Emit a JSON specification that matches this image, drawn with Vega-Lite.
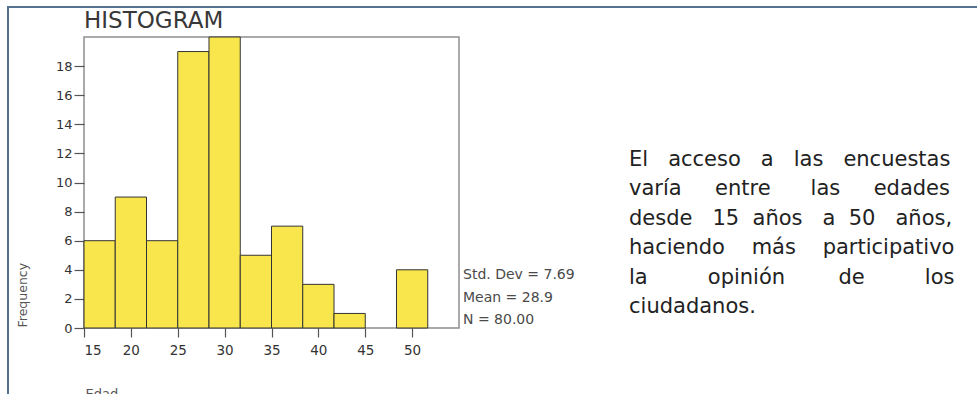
{
  "$schema": "https://vega.github.io/schema/vega-lite/v6.json",
  "width": 375,
  "height": 291,
  "autosize": "none",
  "padding": {"left": 84, "top": 37, "right": 518, "bottom": 66},
  "background": "white",
  "config": {
    "font": "DejaVu Sans",
    "view": {"stroke": "#8f8f8f", "strokeWidth": 1.5},
    "axis": {
      "labelOverlap": false,
      "grid": false,
      "domain": false,
      "tickColor": "#555",
      "tickWidth": 1.2,
      "labelFont": "DejaVu Sans",
      "labelColor": "#333",
      "titleFont": "DejaVu Sans",
      "titleFontWeight": "normal",
      "titleColor": "#555"
    },
    "axisX": {
      "tickSize": 9,
      "labelFontSize": 13.5,
      "labelPadding": 6,
      "titleFontSize": 13,
      "titleX": 1,
      "titleY": 59,
      "titleAlign": "left",
      "titleBaseline": "top"
    },
    "axisY": {
      "tickSize": 10,
      "labelFontSize": 13,
      "labelPadding": 2,
      "titleFontSize": 12.5,
      "titleAngle": 270,
      "titleX": -62,
      "titleY": 290,
      "titleAlign": "left",
      "titleBaseline": "middle"
    }
  },
  "layer": [
    {
      "data": {"values": [{}]},
      "mark": {"type": "rect", "filled": false, "stroke": "#557390", "strokeWidth": 2, "clip": false},
      "encoding": {
        "x": {"datum": 6.893, "type": "quantitative", "scale": {"domain": [15, 55], "padding": 0, "nice": false, "zero": false}, "axis": {"title": "Edad", "values": [15, 20, 25, 30, 35, 40, 45, 50]}},
        "x2": {"datum": 115},
        "y": {"datum": 22.06, "type": "quantitative", "scale": {"domain": [0, 20], "padding": 0, "nice": false}, "axis": {"title": "Frequency", "values": [0, 2, 4, 6, 8, 10, 12, 14, 16, 18]}},
        "y2": {"datum": -6}
      }
    },
    {
      "data": {
        "values": [
          {"bin_start": 15, "bin_end": 18.333, "count": 6},
          {"bin_start": 18.333, "bin_end": 21.667, "count": 9},
          {"bin_start": 21.667, "bin_end": 25, "count": 6},
          {"bin_start": 25, "bin_end": 28.333, "count": 19},
          {"bin_start": 28.333, "bin_end": 31.667, "count": 20},
          {"bin_start": 31.667, "bin_end": 35, "count": 5},
          {"bin_start": 35, "bin_end": 38.333, "count": 7},
          {"bin_start": 38.333, "bin_end": 41.667, "count": 3},
          {"bin_start": 41.667, "bin_end": 45, "count": 1},
          {"bin_start": 48.333, "bin_end": 51.667, "count": 4}
        ]
      },
      "mark": {"type": "bar", "orient": "vertical", "fill": "#F9E64C", "stroke": "#333333", "strokeWidth": 1},
      "encoding": {
        "x": {
          "field": "bin_start",
          "type": "quantitative",
          "scale": {"domain": [15, 55], "padding": 0, "nice": false, "zero": false},
          "axis": {"title": "Edad", "values": [15, 20, 25, 30, 35, 40, 45, 50]}
        },
        "x2": {"field": "bin_end"},
        "y": {
          "field": "count",
          "type": "quantitative",
          "scale": {"domain": [0, 20], "padding": 0, "nice": false},
          "axis": {"title": "Frequency", "values": [0, 2, 4, 6, 8, 10, 12, 14, 16, 18]}
        },
        "y2": {"datum": 0}
      }
    },
    {
      "data": {"values": [{}]},
      "mark": {
        "type": "text",
        "text": "HISTOGRAM",
        "font": "DejaVu Sans",
        "fontSize": 23,
        "fontWeight": "normal",
        "fill": "#383838",
        "align": "left",
        "baseline": "alphabetic",
        "dy": -9,
        "clip": false
      },
      "encoding": {
        "x": {"datum": 15, "type": "quantitative", "scale": {"domain": [15, 55], "padding": 0, "nice": false, "zero": false}, "axis": {"title": "Edad", "values": [15, 20, 25, 30, 35, 40, 45, 50]}},
        "y": {"datum": 20, "type": "quantitative", "scale": {"domain": [0, 20], "padding": 0, "nice": false}, "axis": {"title": "Frequency", "values": [0, 2, 4, 6, 8, 10, 12, 14, 16, 18]}}
      }
    },
    {
      "data": {"values": [{}]},
      "mark": {
        "type": "text",
        "text": ["Std. Dev = 7.69", "Mean = 28.9", "N = 80.00"],
        "font": "DejaVu Sans",
        "fontSize": 14,
        "fontWeight": "normal",
        "fill": "#4a4a4a",
        "align": "left",
        "baseline": "alphabetic",
        "lineHeight": 22.5,
        "dx": 4,
        "dy": -49,
        "clip": false
      },
      "encoding": {
        "x": {"datum": 55, "type": "quantitative", "scale": {"domain": [15, 55], "padding": 0, "nice": false, "zero": false}, "axis": {"title": "Edad", "values": [15, 20, 25, 30, 35, 40, 45, 50]}},
        "y": {"datum": 0, "type": "quantitative", "scale": {"domain": [0, 20], "padding": 0, "nice": false}, "axis": {"title": "Frequency", "values": [0, 2, 4, 6, 8, 10, 12, 14, 16, 18]}}
      }
    },
    {
      "data": {"values": [{}]},
      "mark": {
        "type": "text",
        "text": [
          "El\u00a0\u00a0\u00a0acceso\u00a0\u00a0\u00a0a\u00a0\u00a0\u00a0las\u00a0\u00a0\u00a0encuestas",
          "varía\u00a0\u00a0\u00a0\u00a0\u00a0entre\u00a0\u00a0\u00a0\u00a0\u00a0\u00a0las\u00a0\u00a0\u00a0\u00a0\u00a0edades",
          "desde\u00a0\u00a0\u00a015\u00a0\u00a0años\u00a0\u00a0\u00a0a\u00a0\u00a050\u00a0\u00a0\u00a0años,",
          "haciendo\u00a0\u00a0\u00a0\u00a0más\u00a0\u00a0\u00a0\u00a0participativo",
          "la\u00a0\u00a0\u00a0\u00a0\u00a0\u00a0\u00a0\u00a0\u00a0opinión\u00a0\u00a0\u00a0\u00a0\u00a0\u00a0\u00a0\u00a0de\u00a0\u00a0\u00a0\u00a0\u00a0\u00a0\u00a0\u00a0\u00a0los",
          "ciudadanos."
        ],
        "font": "DejaVu Sans",
        "fontSize": 21,
        "fontWeight": "normal",
        "fill": "#222",
        "align": "left",
        "baseline": "alphabetic",
        "lineHeight": 29.4,
        "dx": 170,
        "dy": 129,
        "clip": false
      },
      "encoding": {
        "x": {"datum": 55, "type": "quantitative", "scale": {"domain": [15, 55], "padding": 0, "nice": false, "zero": false}, "axis": {"title": "Edad", "values": [15, 20, 25, 30, 35, 40, 45, 50]}},
        "y": {"datum": 20, "type": "quantitative", "scale": {"domain": [0, 20], "padding": 0, "nice": false}, "axis": {"title": "Frequency", "values": [0, 2, 4, 6, 8, 10, 12, 14, 16, 18]}}
      }
    }
  ]
}
